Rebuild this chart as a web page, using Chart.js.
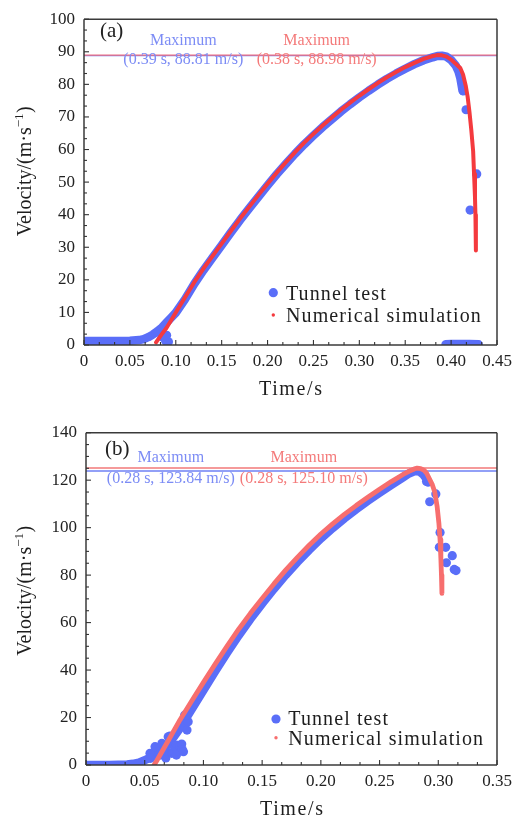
<!DOCTYPE html>
<html><head><meta charset="utf-8">
<script src="https://cdn.jsdelivr.net/npm/chart.js@4.4.1/dist/chart.umd.min.js"></script>
<style>
html,body{margin:0;padding:0;background:#fff;}
#wrap{position:relative;width:527px;height:821px;overflow:hidden;}
canvas{position:absolute;left:0;}
#err{position:absolute;left:0;top:400px;font:10px sans-serif;color:#c00;}
</style></head><body>
<div id="wrap">
<canvas id="ca" width="527" height="410" style="top:0"></canvas>
<canvas id="cb" width="527" height="411" style="top:410px"></canvas>
<div id="err"></div>
</div>
<script>
// ---------------- Panel (a) ----------------
const xTicksA = [0,0.05,0.10,0.15,0.20,0.25,0.30,0.35,0.40,0.45];
const yTicksA = [0,10,20,30,40,50,60,70,80,90,100];
// Tunnel test: dense band (null = break)
const timeA_band = [0,0.01,0.02,0.03,0.04,0.05,0.06,0.065,0.07,0.075,0.08,0.085,0.09,0.095,0.10,0.11,0.12,0.13,0.14,0.15,0.16,0.17,0.18,0.19,0.20,0.21,0.22,0.23,0.24,0.25,0.26,0.27,0.28,0.29,0.30,0.31,0.32,0.33,0.34,0.35,0.36,0.37,0.38,0.385,0.39,0.395,0.40,0.405,0.408,0.41,0.4125,null,0.394,0.40,0.41,0.42,0.43];
const velA_band  = [1.2,1.2,1.2,1.2,1.2,1.3,1.5,1.8,2.4,3.2,4.2,5.4,6.9,8.4,9.9,14.0,18.7,22.9,26.8,30.6,34.5,38.3,41.9,45.5,49.0,52.4,55.6,58.7,61.6,64.3,66.9,69.3,71.7,73.9,76.0,78.0,79.9,81.7,83.3,84.8,86.2,87.4,88.3,88.7,88.81,88.5,87.5,85.8,84.0,82.0,78.0,null,0.2,0.3,0.3,0.3,0.2];
// Tunnel test: isolated points
const timeA_pts = [0.085,0.089,0.092,0.090,0.4134,0.4163,0.4207,0.4279];
const velA_pts  = [2.5,1.2,1.0,3.0,78.0,72.2,41.4,52.5];
// Numerical simulation
const timeA_sim = [0.0785,0.08,0.085,0.09,0.095,0.10,0.11,0.12,0.13,0.14,0.15,0.16,0.17,0.18,0.19,0.20,0.21,0.22,0.23,0.24,0.25,0.26,0.27,0.28,0.29,0.30,0.31,0.32,0.33,0.34,0.35,0.36,0.37,0.38,0.385,0.39,0.395,0.40,0.405,0.41,0.413,0.416,0.418,0.42,0.422,0.424,0.425,0.426,0.4265,0.427];
const velA_sim  = [0.8,1.4,3.4,5.3,7.6,10.0,14.6,19.2,23.4,27.3,31.1,35.0,38.8,42.4,46.0,49.5,52.9,56.1,59.2,62.1,64.8,67.4,69.8,72.2,74.4,76.5,78.5,80.4,82.2,83.8,85.3,86.6,87.8,88.7,88.98,88.9,88.5,87.6,86.3,85.0,83.0,79.5,76.2,71.5,66.0,59.5,52.5,45.5,40.0,29.0];
// Maxima [test, simulation]
const maxTimeA = [0.39, 0.38];
const maxVelA  = [88.81, 88.98];

// ---------------- Panel (b) ----------------
const xTicksB = [0,0.05,0.10,0.15,0.20,0.25,0.30,0.35];
const yTicksB = [0,20,40,60,80,100,120,140];
const timeB_band = [0,0.02,0.035,0.04,0.045,0.05,0.055,0.06,0.065,0.07,0.075,0.08,0.085,0.09,0.10,0.11,0.12,0.13,0.14,0.15,0.16,0.17,0.18,0.19,0.20,0.21,0.22,0.23,0.24,0.25,0.26,0.27,0.275,0.28,0.284,0.287,0.29,0.2915];
const velB_band  = [0,0,0.2,0.5,1.0,2.0,3.2,4.5,6.5,9.0,12.0,15.5,19.5,23.5,31.5,39.5,47.2,54.6,61.5,68.0,74.2,80.0,85.5,90.6,95.4,99.8,103.9,107.7,111.3,114.7,118.0,121.2,122.8,123.84,123.6,122.5,120.5,119.0];
const timeB_pts = [0.0545,0.055,0.0588,0.063,0.0646,0.068,0.069,0.070,0.0715,0.073,0.0744,0.075,0.077,0.077,0.078,0.080,0.0815,0.082,0.083,0.084,0.086,0.087,0.0855,0.290,0.2927,0.2979,0.3015,0.3009,0.3063,0.3119,0.3069,0.3136,0.3151];
const velB_pts  = [4.9,2.8,7.7,4.2,9.1,3.0,5.6,11.9,12.2,4.9,5.6,8.0,8.4,4.2,6.0,7.7,8.8,6.5,5.6,21.0,14.7,18.2,21.0,119.4,110.9,114.2,98.0,91.7,91.7,88.2,85.2,82.4,81.9];
const timeB_sim = [0.058,0.06,0.07,0.08,0.09,0.10,0.11,0.12,0.13,0.14,0.15,0.16,0.17,0.18,0.19,0.20,0.21,0.22,0.23,0.24,0.25,0.26,0.27,0.275,0.28,0.282,0.285,0.288,0.29,0.292,0.295,0.297,0.299,0.3005,0.3015,0.3022,0.3027,0.3031];
const velB_sim  = [0,1.6,10.2,19.0,27.0,34.8,42.5,50.0,57.2,63.9,70.2,76.3,82.1,87.5,92.6,97.3,101.6,105.6,109.3,112.8,116.2,119.4,122.4,123.7,124.8,125.1,124.9,124.1,123.0,121.0,118.0,115.0,109.0,102.0,95.0,87.0,80.0,72.3];
const maxTimeB = [0.28, 0.28];
const maxVelB  = [123.84, 125.10];

const seriesNames = ['Tunnel test', 'Numerical simulation'];

// ---------------- helpers ----------------
const FONT = '"Liberation Serif","DejaVu Serif",serif';
const BLUE = 'rgb(90,110,248)';
const BLUE_TXT = 'rgb(124,140,245)';
const RED_TXT = 'rgb(244,122,122)';
const zip = (t, v) => t.map((x, i) => ({x: x === null ? NaN : x, y: v[i]}));
const fmtX = v => (Math.abs(v) < 1e-9 ? '0' : v.toFixed(2));
function report(e) { document.getElementById('err').textContent += ' ' + (e && e.message ? e.message : e); }

function txt(ctx, s, x, y, size, color, align, spacing) {
  ctx.save();
  ctx.font = size + 'px ' + FONT;
  ctx.fillStyle = color;
  ctx.textBaseline = 'alphabetic';
  ctx.textAlign = 'left';
  if ('letterSpacing' in ctx) ctx.letterSpacing = (spacing || 0) + 'px';
  const w = ctx.measureText(s).width - (spacing || 0);
  const sx = align === 'center' ? x - w / 2 : x;
  ctx.fillText(s, sx, y);
  ctx.restore();
}

function seg(ctx, x1, y1, x2, y2) { ctx.beginPath(); ctx.moveTo(x1, y1); ctx.lineTo(x2, y2); ctx.stroke(); }

function makeChart(id, cfg) {
  const overlay = {
    id: 'overlay' + id,
    beforeDatasetsDraw(chart) {
      try {
        const ctx = chart.ctx, a = chart.chartArea, y = chart.scales.y;
        ctx.save();
        const cols = [cfg.lineBlue, cfg.lineRed];
        cfg.maxVel.forEach((v, i) => {
          const py = y.getPixelForValue(v);
          ctx.strokeStyle = cols[i];
          ctx.lineWidth = 1.4;
          seg(ctx, a.left, py, a.right, py);
        });
        ctx.restore();
      } catch (e) { report(e); }
    },
    afterDatasetsDraw(chart) {
      try {
        const ctx = chart.ctx, a = chart.chartArea, x = chart.scales.x, y = chart.scales.y;
        ctx.save();
        ctx.strokeStyle = '#3a3a3a';
        ctx.lineWidth = 1.5;
        seg(ctx, a.left, a.top, a.right, a.top);
        seg(ctx, a.right, a.top, a.right, a.bottom);
        seg(ctx, a.left, a.bottom, a.right, a.bottom);
        seg(ctx, a.left, a.top, a.left, a.bottom);
        ctx.lineWidth = 1.1;
        ctx.strokeStyle = '#333333';
        const xt = cfg.xTicks, yt = cfg.yTicks;
        for (let i = 0; i < xt.length; i++) {
          const px = x.getPixelForValue(xt[i]);
          seg(ctx, px, a.bottom, px, a.bottom - 5);
          if (i < xt.length - 1) for (let k = 1; k <= cfg.minorX; k++) {
            const q = x.getPixelForValue(xt[i] + (xt[i + 1] - xt[i]) * k / (cfg.minorX + 1));
            seg(ctx, q, a.bottom, q, a.bottom - 3);
          }
        }
        for (let i = 0; i < yt.length; i++) {
          const py = y.getPixelForValue(yt[i]);
          seg(ctx, a.left, py, a.left + 5, py);
          if (i < yt.length - 1) for (let k = 1; k <= cfg.minorY; k++) {
            const q = y.getPixelForValue(yt[i] + (yt[i + 1] - yt[i]) * k / (cfg.minorY + 1));
            seg(ctx, a.left, q, a.left + 3, q);
          }
        }
        ctx.restore();
      } catch (e) { report(e); }
    },
    afterDraw(chart) {
      try {
        const ctx = chart.ctx, a = chart.chartArea;
        txt(ctx, cfg.panel, cfg.panelPos[0], cfg.panelPos[1], 21, '#222', 'left', 0);
        const ac = [BLUE_TXT, RED_TXT];
        cfg.maxVel.forEach((v, i) => {
          const cx = cfg.annX[i];
          txt(ctx, 'Maximum', cx, cfg.annY[0], 16, ac[i], 'center', 0);
          txt(ctx, '(' + cfg.maxTime[i].toFixed(2) + ' s, ' + v.toFixed(2) + ' m/s)', cx, cfg.annY[1], 16, ac[i], 'center', 0);
        });
        const L = cfg.legend;
        ctx.save();
        ctx.fillStyle = BLUE; ctx.beginPath(); ctx.arc(L.x, L.y1, 4.6, 0, Math.PI * 2); ctx.fill();
        ctx.fillStyle = cfg.red; ctx.beginPath(); ctx.arc(L.x, L.y2, 1.7, 0, Math.PI * 2); ctx.fill();
        ctx.restore();
        txt(ctx, seriesNames[0], L.tx, L.b1, 20, '#1e1e1e', 'left', 1.1);
        txt(ctx, seriesNames[1], L.tx, L.b2, 20, '#1e1e1e', 'left', 1.1);
        txt(ctx, 'Time/s', (a.left + a.right) / 2, cfg.xTitleBase, 20, '#1e1e1e', 'center', 1.6);
        ctx.save();
        ctx.translate(cfg.yTitleX, cfg.yTitleC);
        ctx.rotate(-Math.PI / 2);
        ctx.fillStyle = '#1e1e1e';
        ctx.textBaseline = 'alphabetic';
        ctx.textAlign = 'left';
        const f1 = '20px ' + FONT, f2 = '13px ' + FONT;
        ctx.font = f1; const w1 = ctx.measureText('Velocity/(m·s').width, w3 = ctx.measureText(')').width;
        ctx.font = f2; const w2 = ctx.measureText('−1').width;
        const sx = -(w1 + w2 + w3) / 2;
        ctx.font = f1; ctx.fillText('Velocity/(m·s', sx, 0);
        ctx.font = f2; ctx.fillText('−1', sx + w1, -8);
        ctx.font = f1; ctx.fillText(')', sx + w1 + w2 + 0.5, 0);
        ctx.restore();
      } catch (e) { report(e); }
    }
  };

  return new Chart(document.getElementById(id), {
    type: 'scatter',
    data: {
      datasets: [
        {label: seriesNames[0], data: zip(cfg.bandT, cfg.bandV), showLine: true, borderColor: BLUE, backgroundColor: BLUE,
         borderWidth: 8.5, pointRadius: 0, borderCapStyle: 'round', borderJoinStyle: 'round', spanGaps: false, clip: 0, order: 3},
        {label: seriesNames[0] + ' ', data: zip(cfg.ptsT, cfg.ptsV), showLine: false, backgroundColor: BLUE, borderWidth: 0,
         pointRadius: 4.6, clip: 0, order: 2},
        {label: seriesNames[1], data: zip(cfg.simT, cfg.simV), showLine: true, borderColor: cfg.red, backgroundColor: cfg.red,
         borderWidth: cfg.redW, pointRadius: 0, borderCapStyle: 'round', borderJoinStyle: 'round', clip: 0, order: 1}
      ]
    },
    options: {
      responsive: false, animation: false, events: [],
      layout: {padding: {left: 0, top: cfg.padTop, right: 30, bottom: 0}},
      plugins: {legend: {display: false}, tooltip: {enabled: false}},
      scales: {
        x: {type: 'linear', min: cfg.xTicks[0], max: cfg.xTicks[cfg.xTicks.length - 1],
            afterBuildTicks: s => { s.ticks = cfg.xTicks.map(v => ({value: v})); },
            afterFit: s => { s.height = cfg.xAxisH; },
            ticks: {callback: v => fmtX(v), font: {family: FONT, size: 17}, color: '#222', padding: 6, maxRotation: 0, autoSkip: false},
            grid: {display: false, drawTicks: false}, border: {display: false}},
        y: {type: 'linear', min: cfg.yTicks[0], max: cfg.yTicks[cfg.yTicks.length - 1],
            afterBuildTicks: s => { s.ticks = cfg.yTicks.map(v => ({value: v})); },
            afterFit: s => { s.width = cfg.yAxisW; },
            ticks: {callback: v => String(v), font: {family: FONT, size: 17}, color: '#222', padding: 9, autoSkip: false},
            grid: {display: false, drawTicks: false}, border: {display: false}}
      }
    },
    plugins: [overlay]
  });
}

try {
makeChart('ca', {
  xTicks: xTicksA, yTicks: yTicksA, minorX: 2, minorY: 2,
  bandT: timeA_band, bandV: velA_band, ptsT: timeA_pts, ptsV: velA_pts, simT: timeA_sim, simV: velA_sim,
  maxTime: maxTimeA, maxVel: maxVelA,
  red: 'rgb(244,58,62)', redW: 4, lineBlue: 'rgb(120,130,240)', lineRed: 'rgb(235,110,130)',
  padTop: 13, xAxisH: 65, yAxisW: 84,
  panel: '(a)', panelPos: [100, 37],
  annX: [183.3, 316.7], annY: [45, 63.5],
  legend: {x: 273.3, y1: 292.7, y2: 315, tx: 286, b1: 300, b2: 322.3},
  xTitleBase: 395, yTitleX: 31, yTitleC: 171.5
});

makeChart('cb', {
  xTicks: xTicksB, yTicks: yTicksB, minorX: 2, minorY: 3,
  bandT: timeB_band, bandV: velB_band, ptsT: timeB_pts, ptsV: velB_pts, simT: timeB_sim, simV: velB_sim,
  maxTime: maxTimeB, maxVel: maxVelB,
  red: 'rgb(247,110,110)', redW: 4.8, lineBlue: 'rgb(110,128,245)', lineRed: 'rgb(242,120,120)',
  padTop: 22.7, xAxisH: 56, yAxisW: 86,
  panel: '(b)', panelPos: [105, 45],
  annX: [170.8, 303.8], annY: [51.7, 72.7],
  legend: {x: 276, y1: 309, y2: 327.7, tx: 288.3, b1: 315, b2: 335},
  xTitleBase: 404.5, yTitleX: 31, yTitleC: 181
});
} catch (e) { report(e); }
</script>
</body></html>
